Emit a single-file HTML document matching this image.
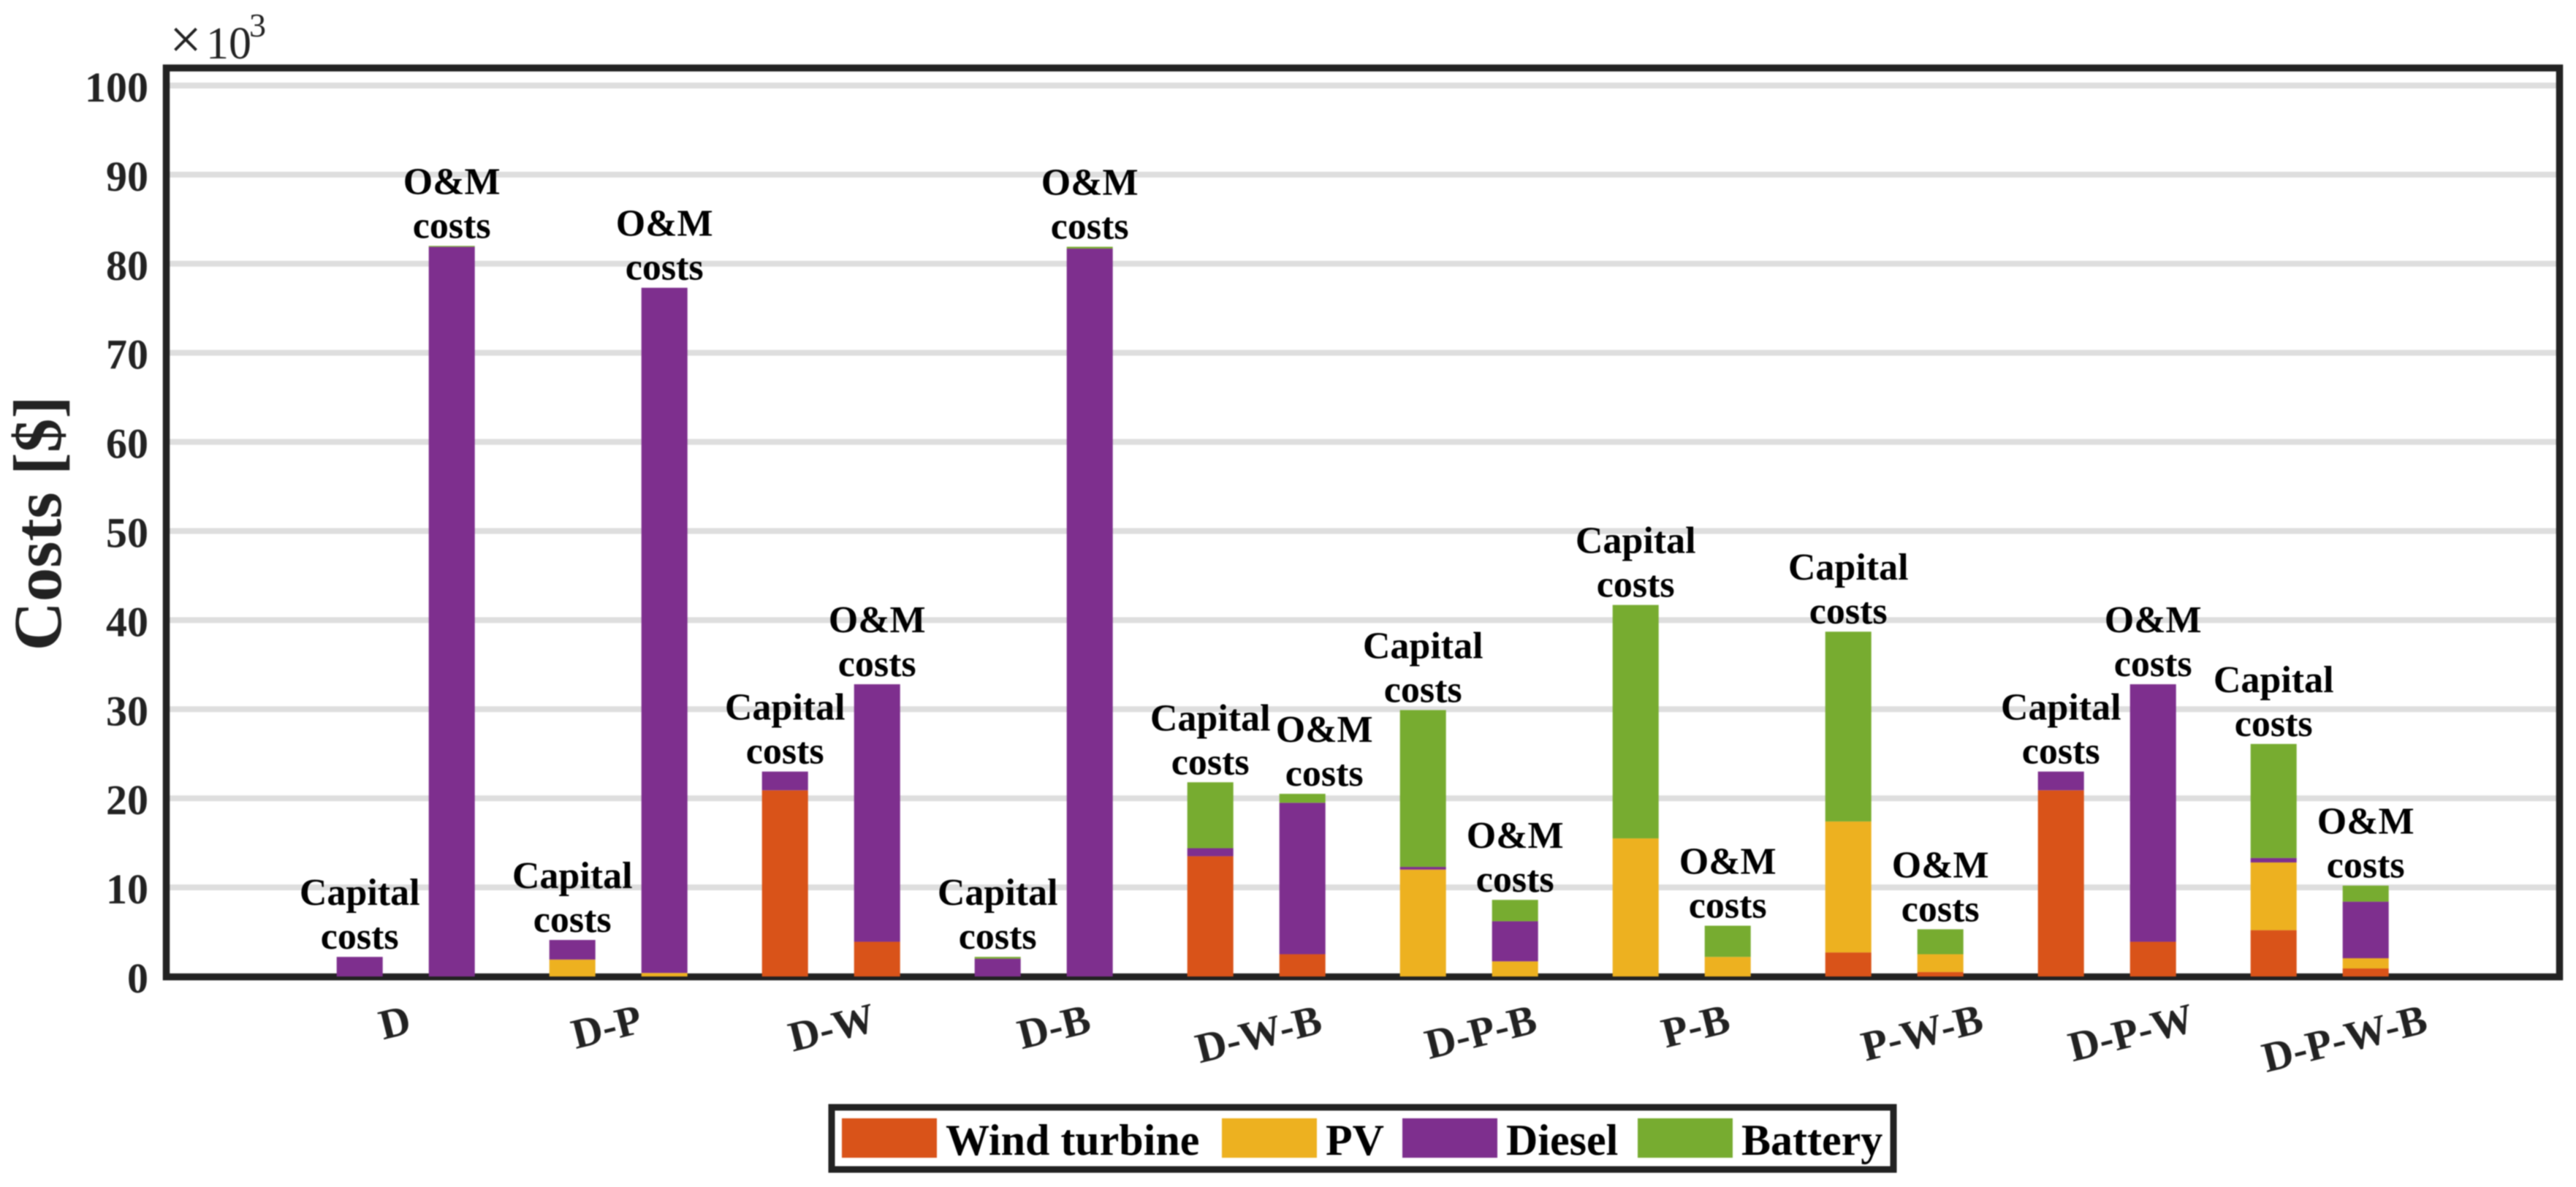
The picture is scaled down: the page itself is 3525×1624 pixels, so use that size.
<!DOCTYPE html>
<html lang="en">
<head>
<meta charset="utf-8">
<title>Costs by system configuration</title>
<style>
  html, body { margin: 0; padding: 0; background: #fff; width: 3525px; height: 1624px; overflow: hidden; }
  svg { display: block; filter: blur(0.7px); }
  text { font-family: "Liberation Serif", serif; }
</style>
</head>
<body>
<svg id="chart" xmlns="http://www.w3.org/2000/svg" width="3525" height="1624" viewBox="0 0 3525 1624">
  <rect x="0" y="0" width="3525" height="1624" fill="#fff"></rect>
  <g id="grid"></g>
  <g id="frame"></g>
  <g id="bars"></g>
  <g id="annotations"></g>
  <g id="yticks"></g>
  <g id="xticks"></g>
  <g>
    <text x="232" y="80" font-size="78" fill="#222">×</text>
    <text x="282" y="80" font-size="62" fill="#222">10</text>
    <text x="341" y="50" font-size="46" fill="#222">3</text>
  </g>
  <text transform="translate(83,716) rotate(-90)" text-anchor="middle" font-size="93" font-weight="700" fill="#222">Costs [$]</text>
  <g id="legend"></g>
</svg>
<script>
// Chart data (thousands of dollars)
const categories = ["D", "D-P", "D-W", "D-B", "D-W-B", "D-P-B", "P-B", "P-W-B", "D-P-W", "D-P-W-B"];
const seriesNames = ["Wind turbine", "PV", "Diesel", "Battery"];
const yTickValues = [0, 10, 20, 30, 40, 50, 60, 70, 80, 90, 100];

const capitalWind    = [0, 0, 20.9, 0, 13.5, 0, 0, 2.7, 20.9, 5.2];
const capitalPV      = [0, 1.9, 0, 0, 0, 12.0, 15.5, 14.7, 0, 7.6];
const capitalDiesel  = [2.2, 2.2, 2.1, 2.0, 0.9, 0.3, 0, 0, 2.1, 0.5];
const capitalBattery = [0, 0, 0, 0.2, 7.4, 17.6, 26.2, 21.3, 0, 12.8];

const omWind    = [0, 0, 3.9, 0, 2.5, 0, 0, 0.5, 3.9, 0.9];
const omPV      = [0, 0.4, 0, 0, 0, 1.7, 2.2, 2.0, 0, 1.15];
const omDiesel  = [81.9, 76.9, 28.9, 81.7, 17.0, 4.5, 0, 0, 28.9, 6.35];
const omBattery = [0.1, 0, 0, 0.2, 1.0, 2.4, 3.5, 2.8, 0, 1.8];

const NS = "http://www.w3.org/2000/svg";
const seriesColors = ["#D95319", "#EDB120", "#7E2F8E", "#77AC30"];

// Axis functions
function yScale(v) { return 1336 - 12.19 * v; }
function xCapital(i) { return 460.7 + 291 * i; }
function xOM(i) { return xCapital(i) + 126; }
const barWidth = 63;
const plotLeft = 232, plotRight = 3498;

function make(tag, attrs, parent) {
  const node = document.createElementNS(NS, tag);
  for (const k in attrs) node.setAttribute(k, attrs[k]);
  parent.appendChild(node);
  return node;
}
function slug(s) { return s.toLowerCase().replace(/[^a-z0-9]+/g, "-"); }

// Gridlines and y tick labels
yTickValues.forEach(function (v) {
  if (v > 0) {
    const line = make("rect", { x: plotLeft, y: yScale(v) - 4, width: plotRight - plotLeft, height: 8, fill: "#dedede" }, document.getElementById("grid"));
    
    
  }
  const t = make("text", { x: 203, y: yScale(v) + 22, "text-anchor": "end", "font-size": 58, "font-weight": 700, fill: "#222" }, document.getElementById("yticks"));
  t.textContent = String(v);
  
  
});

// Frame
const frameRect = make("rect", { x: 227.5, y: 93, width: 3275, height: 1243.5, fill: "none" }, document.getElementById("frame"));
frameRect.setAttribute("stroke", "#222");
frameRect.setAttribute("stroke-width", 9.5);



// Bars
function drawStack(x, values, kind, i) {
  const barGroup = document.getElementById("bars");
  let base = 0;
  values.forEach(function (v, s) {
    if (v <= 0) return;
    const top = base + v;
    const r = make("rect", { x: x, y: yScale(top), width: barWidth, height: yScale(base) - yScale(top), fill: seriesColors[s] }, barGroup);
    
    
    base = top;
  });
  return base;
}

function drawNote(cx, total, first, i, kind) {
  const note = make("text", { "text-anchor": "middle", "font-size": 52, "font-weight": 700, fill: "#000" }, document.getElementById("annotations"));
  
  
  const a = make("tspan", { x: cx, y: yScale(total) - 71 }, note);
  a.textContent = first;
  const b = make("tspan", { x: cx, y: yScale(total) - 11 }, note);
  b.textContent = "costs";
}

categories.forEach(function (name, i) {
  const capitalTop = drawStack(xCapital(i), [capitalWind[i], capitalPV[i], capitalDiesel[i], capitalBattery[i]], "capital", i);
  const omTop = drawStack(xOM(i), [omWind[i], omPV[i], omDiesel[i], omBattery[i]], "om", i);
  drawNote(xCapital(i) + barWidth / 2, capitalTop, "Capital", i, "capital");
  // The O&M note of D-W-B sits to the right so it clears the Capital note
  const omShift = (name === "D-W-B") ? 30 : 0;
  drawNote(xOM(i) + barWidth / 2 + omShift, omTop, "O&M", i, "om");
});

// X tick labels (rotated)
(function () {
  const shiftX = [-15, -16, 1, 14, 3, 16, 19, 38, 33, 34];
  const centerY = [1399, 1405, 1406, 1405, 1415, 1412, 1404, 1413, 1413, 1421];
  categories.forEach(function (name, i) {
    const cx = xCapital(i) + 94.5 + shiftX[i];
    const t = make("text", { transform: "translate(" + cx + "," + centerY[i] + ") rotate(-14)", y: 19, "text-anchor": "middle", "font-size": 58, "font-weight": 700, fill: "#222" }, document.getElementById("xticks"));
    t.textContent = name;
    
    
  });
})();

// Legend
(function () {
  const g = document.getElementById("legend");
  const box = make("rect", { x: 1138, y: 1515, width: 1453, height: 85, fill: "#fff", stroke: "#222", "stroke-width": 9 }, g);
  
  
  const swatchX = [1152, 1672, 1919, 2241];
  seriesNames.forEach(function (name, s) {
    const sw = make("rect", { x: swatchX[s], y: 1530, width: 130, height: 54, fill: seriesColors[s] }, g);
    
    
    const t = make("text", { x: swatchX[s] + 142, y: 1580, "font-size": 60, "font-weight": 700, fill: "#000" }, g);
    t.textContent = name;
    
    
  });
})();
</script>
</body>
</html>
